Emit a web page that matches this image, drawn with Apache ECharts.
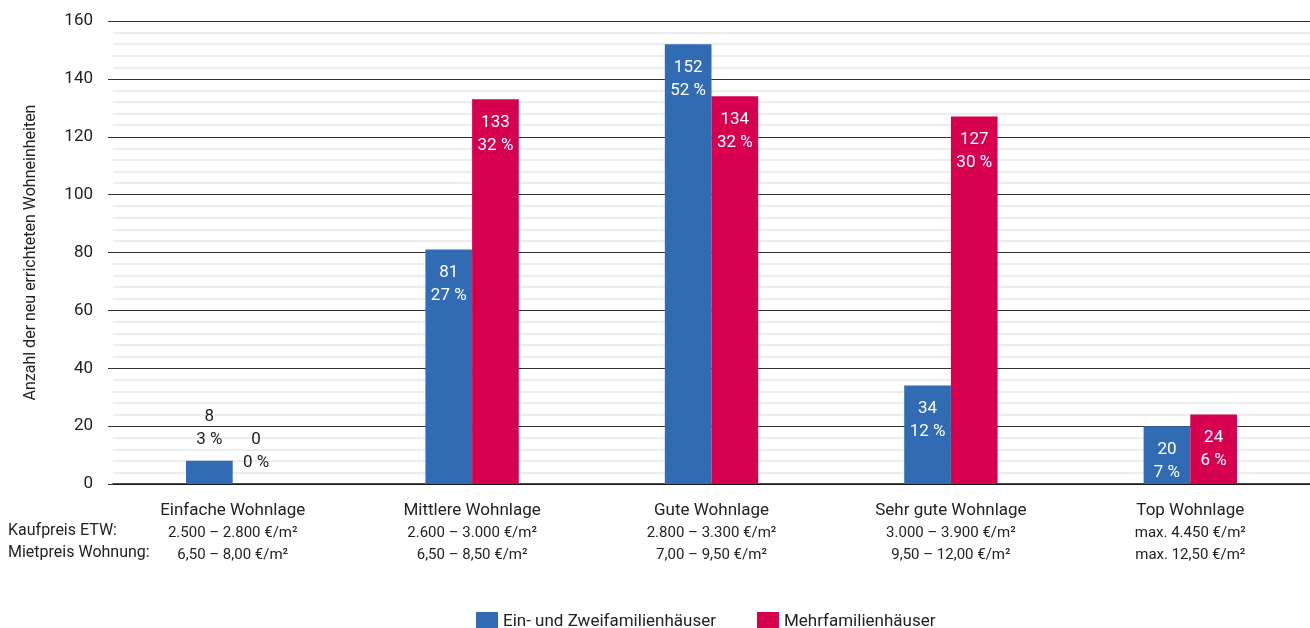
<!DOCTYPE html>
<html>
<head>
<meta charset="utf-8">
<script src="https://cdn.jsdelivr.net/npm/echarts@6/dist/echarts.min.js"></script>
<style>
  html, body { margin: 0; padding: 0; background: #fff; }
  #chart { width: 1310px; height: 628px; }
</style>
</head>
<body>
<div id="chart"></div>
<script>
// Wohnlagen
var lagen = ['Einfache Wohnlage', 'Mittlere Wohnlage', 'Gute Wohnlage', 'Sehr gute Wohnlage', 'Top Wohnlage']
var kaufpreis = ['2.500 – 2.800 €/m²', '2.600 – 3.000 €/m²', '2.800 – 3.300 €/m²', '3.000 – 3.900 €/m²', 'max. 4.450 €/m²']
var mietpreis = ['6,50 – 8,00 €/m²', '6,50 – 8,50 €/m²', '7,00 – 9,50 €/m²', '9,50 – 12,00 €/m²', 'max. 12,50 €/m²']

var efhWerte = [8, 81, 152, 34, 20]
var efhProzent = [3, 27, 52, 12, 7]
var mfhWerte = [0, 133, 134, 127, 24]
var mfhProzent = [0, 32, 32, 30, 6]

var yTicks = [0, 20, 40, 60, 80, 100, 120, 140, 160]

var schrift = 'Roboto, sans-serif'
var blau = '#316bb4'
var rot = '#d7004f'

var categories = lagen.map(function (l, i) {
  return l + '\n' + kaufpreis[i] + '\n' + mietpreis[i]
})

function makeData (werte, prozent) {
  return werte.map(function (v, i) {
    var item = { value: v, pct: prozent[i] }
    if (v < 15) {
      item.label = { position: 'top', color: '#222', distance: 10 }
    }
    return item
  })
}

function labelFmt (p) {
  return p.value + '\n' + p.data.pct + ' %'
}

var chart = echarts.init(document.getElementById('chart'))
var option = {
  backgroundColor: '#fff',
  textStyle: { fontFamily: schrift },
  grid: { left: 113, right: 0, top: 21, bottom: 144, containLabel: false },
  legend: {
    top: 607,
    left: 471,
    itemWidth: 22,
    itemHeight: 20,
    itemGap: 41,
    icon: 'rect',
    textStyle: { fontFamily: schrift, fontSize: 17, color: '#222' },
    data: ['Ein- und Zweifamilienhäuser', 'Mehrfamilienhäuser']
  },
  graphic: [{
    type: 'text',
    left: 8,
    top: 520,
    style: {
      text: 'Kaufpreis ETW:\nMietpreis Wohnung:',
      font: '16px ' + schrift,
      lineHeight: 22,
      fill: '#222'
    }
  }],
  xAxis: {
    type: 'category',
    data: categories,
    axisLine: { lineStyle: { color: '#111', width: 1.5 } },
    axisTick: { show: false },
    axisLabel: {
      margin: 16,
      lineHeight: 22,
      fontSize: 16,
      color: '#222',
      fontFamily: schrift,
      formatter: function (v) {
        var parts = v.split('\n')
        return '{a|' + parts[0] + '}\n{b|' + parts[1] + '}\n{b|' + parts[2] + '}'
      },
      rich: {
        a: { fontSize: 17, lineHeight: 22, fontFamily: schrift, color: '#222' },
        b: { fontSize: 15, lineHeight: 22, fontFamily: schrift, color: '#222' }
      }
    }
  },
  yAxis: {
    type: 'value',
    min: yTicks[0],
    max: yTicks[yTicks.length - 1],
    interval: 20,
    name: 'Anzahl der neu errichteten Wohneinheiten',
    nameLocation: 'middle',
    nameGap: 74,
    nameTextStyle: { fontSize: 16, color: '#222', fontFamily: schrift },
    axisLine: { show: false },
    axisTick: { show: true, length: 5, lineStyle: { color: '#333' } },
    axisLabel: { margin: 20, fontSize: 17, color: '#222', fontFamily: schrift },
    splitLine: { lineStyle: { color: '#333', width: 1.2 } },
    minorTick: { show: false, splitNumber: 5 },
    minorSplitLine: { show: true, lineStyle: { color: '#ededed', width: 2 } }
  },
  series: [{
    name: 'Ein- und Zweifamilienhäuser',
    type: 'bar',
    barGap: 0,
    barCategoryGap: '61%',
    itemStyle: { color: blau },
    label: {
      show: true,
      position: 'insideTop',
      distance: 12,
      color: '#fff',
      fontSize: 17,
      lineHeight: 23,
      fontFamily: schrift,
      formatter: labelFmt
    },
    data: makeData(efhWerte, efhProzent)
  }, {
    name: 'Mehrfamilienhäuser',
    type: 'bar',
    barGap: 0,
    barCategoryGap: '61%',
    itemStyle: { color: rot },
    label: {
      show: true,
      position: 'insideTop',
      distance: 12,
      color: '#fff',
      fontSize: 17,
      lineHeight: 23,
      fontFamily: schrift,
      formatter: labelFmt
    },
    data: makeData(mfhWerte, mfhProzent)
  }]
}
chart.setOption(option)
</script>
</body>
</html>
